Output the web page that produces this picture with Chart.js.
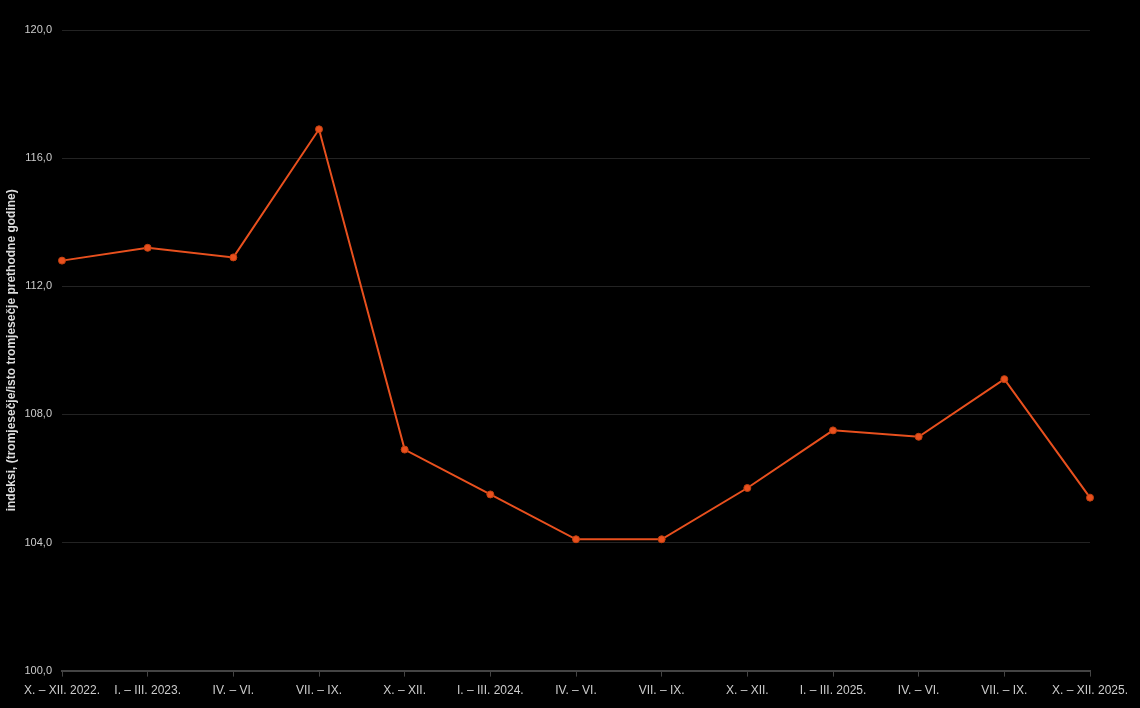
<!DOCTYPE html>
<html>
<head>
<meta charset="utf-8">
<script src="https://cdn.jsdelivr.net/npm/chart.js"></script>
<style>
  html, body { margin: 0; padding: 0; background: #000; }
  #wrap { width: 1140px; height: 708px; }
</style>
</head>
<body>
<div id="wrap"><canvas id="indexChart"></canvas></div>
<script>
// quarters (tromjesečja)
const quarterLabels = [
    'X. – XII. 2022.', 'I. – III. 2023.', 'IV. – VI.', 'VII. – IX.',
    'X. – XII.', 'I. – III. 2024.', 'IV. – VI.', 'VII. – IX.',
    'X. – XII.', 'I. – III. 2025.', 'IV. – VI.', 'VII. – IX.', 'X. – XII. 2025.'
];

// index, same quarter of previous year = 100
const indexValues = [112.8, 113.2, 112.9, 116.9, 106.9, 105.5, 104.1, 104.1, 105.7, 107.5, 107.3, 109.1, 105.4];

const yAxisTitle = 'indeksi, (tromjesečje/isto tromjesečje prethodne godine)';

const lineColor = '#e8501e';

const ctx = document.getElementById('indexChart').getContext('2d');
const indexChart = new Chart(ctx, {
    type: 'line',
    data: {
        labels: quarterLabels,
        datasets: [{
            label: 'indeksi',
            data: indexValues,
            borderColor: lineColor,
            backgroundColor: lineColor,
            borderWidth: 2,
            pointRadius: 3.5,
            pointBackgroundColor: lineColor,
            pointBorderColor: '#c2400f',
            pointBorderWidth: 1,
            tension: 0
        }]
    },
    options: {
        responsive: true,
        maintainAspectRatio: false,
        animation: false,
        layout: {
            padding: { top: 30, right: 50, bottom: 3, left: 4 }
        },
        scales: {
            x: {
                offset: false,
                grid: {
                    display: true,
                    drawOnChartArea: false,
                    drawTicks: true,
                    tickLength: 6,
                    color: '#444'
                },
                border: { display: true, color: '#444', width: 2 },
                ticks: {
                    color: '#cccccc',
                    font: { family: 'Liberation Sans, Arial, sans-serif', size: 12 },
                    maxRotation: 0,
                    autoSkip: false,
                    padding: 7
                }
            },
            y: {
                min: 100,
                max: 120,
                afterFit: function(scale) { scale.width = 58; },
                grid: {
                    color: '#232323',
                    drawTicks: false
                },
                border: { display: false },
                ticks: {
                    stepSize: 4,
                    color: '#cccccc',
                    padding: 10,
                    font: { family: 'Liberation Sans, Arial, sans-serif', size: 11 },
                    callback: function(value) {
                        return value.toFixed(1).replace('.', ',');
                    }
                },
                title: {
                    display: true,
                    text: yAxisTitle,
                    color: '#dddddd',
                    padding: { top: 0, bottom: 0 },
                    font: { family: 'Liberation Sans, Arial, sans-serif', size: 12, weight: 'bold' }
                }
            }
        },
        plugins: {
            legend: { display: false },
            tooltip: {
                callbacks: {
                    label: function(context) {
                        return context.parsed.y.toFixed(1).replace('.', ',');
                    }
                }
            }
        }
    }
});
</script>
</body>
</html>
